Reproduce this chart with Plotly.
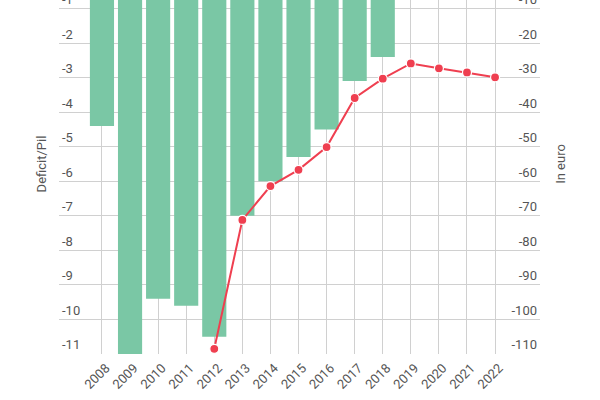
import plotly.graph_objects as go

years = [str(y) for y in range(2008, 2023)]
bar_years = years[:11]
deficit_pil = [-4.4, -11.0, -9.4, -9.6, -10.5, -7.0, -6.0, -5.3, -4.5, -3.1, -2.4]
line_years = years[4:]
in_euro = [-108.5, -71.2, -61.4, -56.7, -50.1, -35.9, -30.3, -25.9, -27.3, -28.5, -29.9]

left_ticks = list(range(-11, 0))
right_ticks = list(range(-110, 0, 10))

bar_color = "#7ac7a5"
line_color = "#ef3f50"
grid_color = "#d0d0d0"
text_color = "#555555"
font_family = "Roboto"

fig = go.Figure()
fig.add_trace(go.Bar(
    x=bar_years, y=deficit_pil, marker=dict(color=bar_color, line=dict(width=0)),
    yaxis="y", name="Deficit/Pil", hoverinfo="x+y"))
fig.add_trace(go.Scatter(
    x=line_years, y=in_euro, yaxis="y2", mode="lines+markers",
    line=dict(color=line_color, width=2),
    marker=dict(color=line_color, size=9, line=dict(color="white", width=1.2)),
    name="In euro"))

fig.update_layout(
    width=600, height=426,
    margin=dict(l=59, r=60, t=0, b=46, autoexpand=False),
    paper_bgcolor="white", plot_bgcolor="white",
    showlegend=False, bargap=0.14,
    font=dict(family=font_family, size=13, color=text_color),
    xaxis=dict(
        type="category", categoryorder="array", categoryarray=years,
        range=[-1.53, 15.6], tickangle=-45, showgrid=True, gridcolor=grid_color,
        gridwidth=1, showline=False, zeroline=False, ticks="",
        tickfont=dict(size=13, color=text_color),
        ticklabelshift=4, ticklabelstandoff=3,
    ),
    yaxis=dict(
        range=[-11, 0], tickvals=left_ticks, ticktext=[str(v) for v in left_ticks],
        showgrid=True, gridcolor=grid_color, gridwidth=1, zeroline=False,
        ticklabelposition="inside top", ticks="", showline=False,
        tickfont=dict(size=13, color=text_color),
        title=dict(text="Deficit/Pil", standoff=12, font=dict(size=13, color=text_color)),
    ),
    yaxis2=dict(
        range=[-110, 0], tickvals=right_ticks, ticktext=[str(v) for v in right_ticks],
        overlaying="y", side="right", showgrid=False, zeroline=False,
        ticklabelposition="inside top", ticks="", showline=False,
        tickfont=dict(size=13, color=text_color),
        title=dict(text="In euro", standoff=19, font=dict(size=13, color=text_color)),
    ),
)

fig.write_html(
    "out.html",
    post_script="document.documentElement.style.overflow='hidden';"
                "document.body.style.margin='0';"
                "document.body.style.marginTop='-26px';"
                "document.body.style.overflow='hidden';",
)
